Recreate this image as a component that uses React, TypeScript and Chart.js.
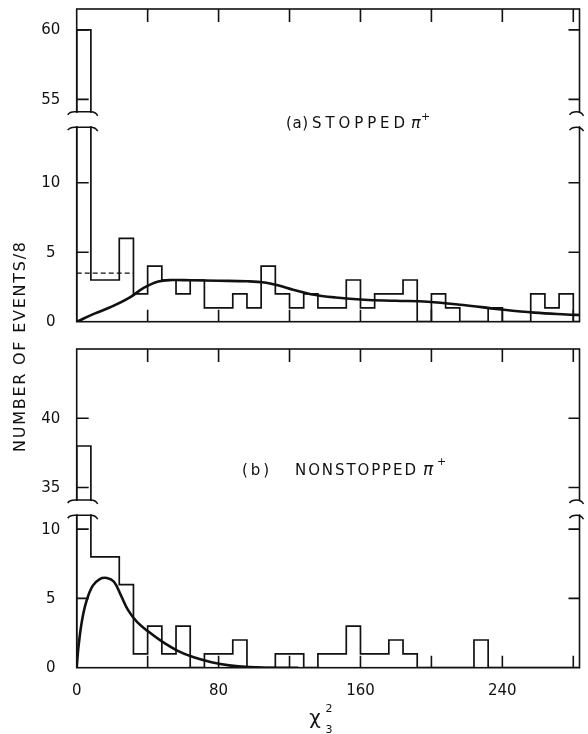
import React, { useEffect, useRef } from "react";
import { Chart, registerables } from "chart.js";
Chart.register(...registerables);

// ---------- data ----------
const binStarts = [0, 8, 16, 24, 32, 40, 48, 56, 64, 72, 80, 88, 96, 104, 112, 120, 128, 136, 144, 152, 160, 168, 176, 184, 192, 200, 208, 216, 224, 232, 240, 248, 256, 264, 272, 280];
const binWidth = 8;

const stoppedCounts = [60, 3, 3, 6, 2, 4, 3, 2, 3, 1, 1, 2, 1, 4, 2, 1, 2, 1, 1, 3, 1, 2, 2, 3, 0, 2, 1, 0, 0, 1, 0, 0, 2, 1, 2, 0];
const nonstoppedCounts = [38, 8, 8, 6, 1, 3, 1, 3, 0, 1, 1, 2, 0, 0, 1, 1, 0, 1, 1, 3, 1, 1, 2, 1, 0, 0, 0, 0, 2, 0, 0, 0, 0, 0, 0, 0];

const stoppedFitX = [0, 10, 20, 30, 38, 46, 54, 64, 80, 96, 106, 114, 122, 132, 146, 162, 180, 198, 218, 238, 258, 276, 284];
const stoppedFitY = [0, 0.58, 1.1, 1.75, 2.45, 2.9, 3.0, 2.98, 2.95, 2.91, 2.82, 2.6, 2.3, 1.98, 1.74, 1.58, 1.51, 1.44, 1.2, 0.9, 0.65, 0.52, 0.48];

const nonstoppedFitX = [0, 1, 3, 5.5, 9, 13, 17, 21, 25, 29, 34, 40, 48, 57, 66, 76, 86, 97, 108, 125];
const nonstoppedFitY = [0, 1.5, 3.4, 4.8, 5.9, 6.4, 6.48, 6.2, 5.2, 4.15, 3.3, 2.65, 1.9, 1.22, 0.75, 0.4, 0.17, 0.04, 0, 0];

const stoppedMeanLevel = 3.5;
const stoppedMeanFrom = 0;
const stoppedMeanTo = 32;

const xMin = 0;
const xMax = 283.5;
const xTickMarks = [40, 80, 120, 160, 200, 240, 280];
const xTickLabels = [0, 80, 160, 240];

const stoppedYTicks = [0, 5, 10, 55, 60];
const nonstoppedYTicks = [0, 5, 10, 35, 40];

// broken axis: values above breakLo are shifted down by offset
const stoppedBreak = { lo: 14, hi: 15.1, offset: 39, max: 22.5 };
const nonstoppedBreak = { lo: 11, hi: 12.1, offset: 22, max: 23.0 };

const yTitle = "NUMBER OF EVENTS/8";
const stoppedLabel = ["(a)", "STOPPED", "\u03c0", "+"];
const nonstoppedLabel = ["(b)", "NONSTOPPED", "\u03c0", "+"];
const xTitle = ["\u03c7", "2", "3"];

const INK = "#111";
const FONT = '"DejaVu Sans", sans-serif';

function makeDisp(br: { lo: number; offset: number }) {
  return (v: number) => (v > br.lo ? v - br.offset : v);
}

function histPoints(counts: number[], disp: (v: number) => number) {
  const pts: { x: number; y: number }[] = [{ x: binStarts[0], y: 0 }];
  binStarts.forEach((b, i) => pts.push({ x: b, y: disp(counts[i]) }));
  pts.push({ x: binStarts[binStarts.length - 1] + binWidth, y: 0 });
  return pts;
}

function drawSpaced(ctx: CanvasRenderingContext2D, text: string, x: number, y: number, width: number) {
  const chars = Array.from(text);
  const ws = chars.map((c) => ctx.measureText(c).width);
  const total = ws.reduce((a, b) => a + b, 0);
  const gap = chars.length > 1 ? (width - total) / (chars.length - 1) : 0;
  let cx = x;
  chars.forEach((c, i) => {
    ctx.fillText(c, cx, y);
    cx += ws[i] + gap;
  });
}

function squiggle(ctx: CanvasRenderingContext2D, x0: number, x1: number, y: number) {
  ctx.beginPath();
  ctx.moveTo(x0, y + 3);
  ctx.quadraticCurveTo(x0 + 2, y, x0 + 7, y);
  ctx.lineTo(x1 - 7, y);
  ctx.quadraticCurveTo(x1 - 2, y, x1, y + 4);
  ctx.stroke();
}

type PanelCfg = {
  id: string;
  yTicks: number[];
  br: { lo: number; hi: number; offset: number; max: number };
  bottom: boolean;
};

function decorPlugin(cfg: PanelCfg) {
  const disp = makeDisp(cfg.br);
  return {
    id: cfg.id,
    afterDatasetsDraw(chart: any) {
      const { ctx, chartArea: a, scales } = chart;
      const x = scales.x;
      const y = scales.y;
      ctx.save();
      ctx.strokeStyle = INK;
      ctx.fillStyle = INK;
      ctx.lineWidth = 1.6;
      ctx.lineCap = "butt";

      // frame
      ctx.strokeRect(a.left, a.top, a.right - a.left, a.bottom - a.top);

      // inner x ticks (top and bottom edges)
      xTickMarks.forEach((v) => {
        const px = x.getPixelForValue(v);
        ctx.beginPath();
        ctx.moveTo(px, a.top);
        ctx.lineTo(px, a.top + 13);
        ctx.moveTo(px, a.bottom);
        ctx.lineTo(px, a.bottom - 12);
        ctx.stroke();
      });

      // inner y ticks (left and right edges) + labels
      ctx.font = `15px ${FONT}`;
      ctx.textAlign = "center";
      ctx.textBaseline = "middle";
      cfg.yTicks.forEach((v) => {
        const py = y.getPixelForValue(disp(v));
        if (v !== 0) {
          ctx.beginPath();
          ctx.moveTo(a.left, py);
          ctx.lineTo(a.left + 12, py);
          ctx.moveTo(a.right, py);
          ctx.lineTo(a.right - 11, py);
          ctx.stroke();
        }
        ctx.fillText(String(v), a.left - 26, py + 0.5);
      });

      // axis break
      const yLo = y.getPixelForValue(cfg.br.lo);
      const yHi = y.getPixelForValue(cfg.br.hi);
      ctx.fillStyle = "#fff";
      ctx.fillRect(a.left - 3, yHi + 1, 24, yLo - yHi - 2);
      ctx.fillRect(a.right - 10, yHi + 1, 14, yLo - yHi - 2);
      ctx.fillStyle = INK;
      ctx.lineWidth = 1.5;
      squiggle(ctx, a.left - 9, a.left + 21, yHi);
      squiggle(ctx, a.left - 9, a.left + 21, yLo);
      squiggle(ctx, a.right - 10, a.right + 4, yHi);
      squiggle(ctx, a.right - 10, a.right + 4, yLo);

      if (cfg.bottom) {
        // x tick labels
        ctx.font = `15px ${FONT}`;
        ctx.textAlign = "center";
        ctx.textBaseline = "middle";
        xTickLabels.forEach((v) => {
          ctx.fillText(String(v), x.getPixelForValue(v), a.bottom + 23);
        });
        // x title chi^2_3
        ctx.textAlign = "center";
        ctx.textBaseline = "alphabetic";
        ctx.font = `20px ${FONT}`;
        ctx.fillText(xTitle[0], 315, 724);
        ctx.font = `11px ${FONT}`;
        ctx.fillText(xTitle[1], 329, 712);
        ctx.fillText(xTitle[2], 329, 733);

        // y title (spans both panels)
        ctx.save();
        ctx.translate(21, 452);
        ctx.rotate(-Math.PI / 2);
        ctx.font = `16px ${FONT}`;
        ctx.textAlign = "left";
        ctx.textBaseline = "middle";
        drawSpaced(ctx, yTitle, 0, 0, 210);
        ctx.restore();

        // panel label (b)
        ctx.textAlign = "left";
        ctx.textBaseline = "alphabetic";
        ctx.font = `15px ${FONT}`;
        drawSpaced(ctx, nonstoppedLabel[0], 242, 475, 27);
        drawSpaced(ctx, nonstoppedLabel[1], 295, 475, 121);
        ctx.font = `italic 17px ${FONT}`;
        ctx.fillText(nonstoppedLabel[2], 423, 475);
        ctx.font = `11px ${FONT}`;
        ctx.fillText(nonstoppedLabel[3], 437, 465);
      } else {
        ctx.textAlign = "left";
        ctx.textBaseline = "alphabetic";
        ctx.font = `15px ${FONT}`;
        drawSpaced(ctx, stoppedLabel[0], 286, 128, 22);
        drawSpaced(ctx, stoppedLabel[1], 312, 128, 93);
        ctx.font = `italic 16px ${FONT}`;
        ctx.fillText(stoppedLabel[2], 411, 128);
        ctx.font = `11px ${FONT}`;
        ctx.fillText(stoppedLabel[3], 421, 120);
      }
      ctx.restore();
    },
  };
}

function buildChart(
  canvas: HTMLCanvasElement,
  counts: number[],
  fitX: number[],
  fitY: number[],
  cfg: PanelCfg,
  padding: { left: number; right: number; top: number; bottom: number },
  withMean: boolean
) {
  const disp = makeDisp(cfg.br);
  const datasets: any[] = [
    {
      label: "histogram",
      data: histPoints(counts, disp),
      stepped: "before",
      borderColor: INK,
      borderWidth: 1.7,
      pointRadius: 0,
      fill: false,
    },
    {
      label: "fit",
      data: fitX.map((v, i) => ({ x: v, y: disp(fitY[i]) })),
      tension: 0.4,
      borderColor: INK,
      borderWidth: 2.6,
      pointRadius: 0,
      fill: false,
    },
  ];
  if (withMean) {
    datasets.push({
      label: "mean",
      data: [
        { x: stoppedMeanFrom, y: stoppedMeanLevel },
        { x: stoppedMeanTo, y: stoppedMeanLevel },
      ],
      borderColor: INK,
      borderWidth: 1.3,
      borderDash: [5, 3],
      pointRadius: 0,
      fill: false,
    });
  }
  return new Chart(canvas, {
    type: "line",
    data: { datasets },
    options: {
      responsive: false,
      animation: false,
      devicePixelRatio: 1,
      events: [],
      layout: { padding },
      plugins: { legend: { display: false }, tooltip: { enabled: false } },
      scales: {
        x: { type: "linear", min: xMin, max: xMax, display: false },
        y: { type: "linear", min: 0, max: cfg.br.max, display: false },
      },
    },
    plugins: [decorPlugin(cfg)],
  } as any);
}

export default function App() {
  const topRef = useRef<HTMLCanvasElement>(null);
  const botRef = useRef<HTMLCanvasElement>(null);

  useEffect(() => {
    const c1 = buildChart(
      topRef.current!,
      stoppedCounts,
      stoppedFitX,
      stoppedFitY,
      { id: "decorTop", yTicks: stoppedYTicks, br: stoppedBreak, bottom: false },
      { left: 76.7, right: 8.5, top: 9, bottom: 412.3 },
      true
    );
    const c2 = buildChart(
      botRef.current!,
      nonstoppedCounts,
      nonstoppedFitX,
      nonstoppedFitY,
      { id: "decorBottom", yTicks: nonstoppedYTicks, br: nonstoppedBreak, bottom: true },
      { left: 76.7, right: 8.5, top: 349, bottom: 66.3 },
      false
    );
    return () => {
      c1.destroy();
      c2.destroy();
    };
  }, []);

  const cs: React.CSSProperties = { position: "absolute", left: 0, top: 0, width: 588, height: 734 };
  return (
    <div style={{ position: "absolute", left: 0, top: 0, width: 588, height: 734, background: "#fff" }}>
      <canvas ref={topRef} width={588} height={734} style={cs} />
      <canvas ref={botRef} width={588} height={734} style={cs} />
    </div>
  );
}
